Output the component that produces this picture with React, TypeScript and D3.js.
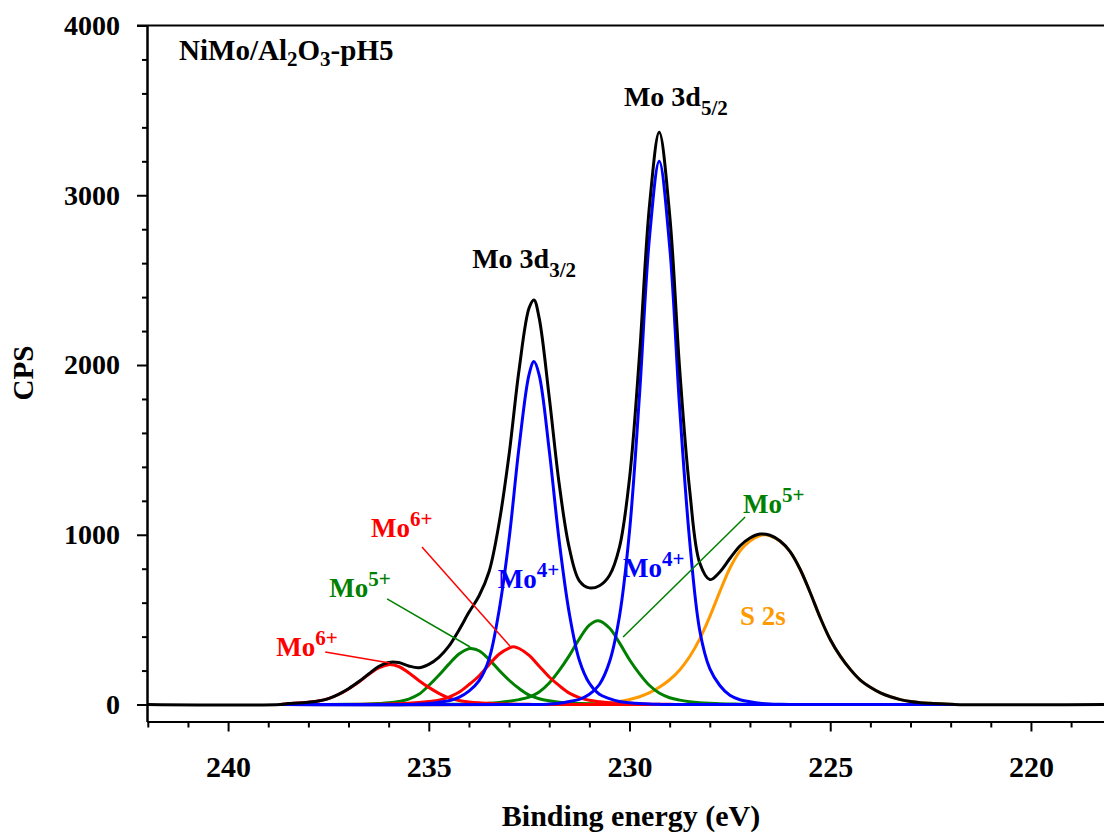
import React, { useEffect, useRef } from 'react';
import * as d3 from 'd3';

type Pt = [number, number];

const mo6Low: Pt[] = [
  [238.7, 0], [238.5, 6], [238.25, 9], [238, 14], [237.75, 21], [237.5, 35], [237.25, 59], [237, 92],
  [236.75, 131], [236.5, 176], [236.25, 216], [236, 235], [235.75, 224], [235.5, 187], [235.25, 142],
  [235, 101], [234.75, 66], [234.5, 39], [234.25, 24], [234, 15], [233.75, 10], [233.5, 7], [233.25, 4],
  [233, 3], [232.75, 2], [232.5, 1], [232, 0], [221.9, 0],
];

const mo5Low: Pt[] = [
  [238.7, 0], [237.5, 0], [237, 1], [236.75, 2], [236.5, 3], [236.25, 6], [236, 10], [235.75, 18],
  [235.5, 32], [235.25, 60], [235, 112], [234.75, 172], [234.5, 238], [234.25, 298], [234, 329],
  [233.95, 330], [233.75, 317], [233.5, 266], [233.25, 202], [233, 143], [232.75, 94], [232.5, 55],
  [232.25, 34], [232, 22], [231.75, 14], [231.5, 9], [231.25, 6], [231, 4], [230.75, 3], [230.5, 2],
  [230, 1], [229.5, 0], [221.9, 0],
];

const mo4Low: Pt[] = [
  [238.7, 0], [235.5, 0], [235.25, 3], [235, 6], [234.75, 14], [234.5, 22], [234.25, 42], [234, 79],
  [233.75, 139], [233.5, 267], [233.25, 553], [233, 976], [232.75, 1519], [232.5, 1947], [232.38, 2020],
  [232.25, 1941], [232, 1497], [231.75, 960], [231.5, 537], [231.25, 261], [231, 125], [230.75, 60],
  [230.5, 35], [230.25, 18], [230, 11], [229.75, 6], [229.5, 3], [229.25, 1], [229, 0], [221.9, 0],
];

const mo6High: Pt[] = [
  [238.7, 0], [237, 0], [236.5, 1], [236.25, 2], [236, 3], [235.75, 5], [235.5, 8], [235.25, 12],
  [235, 18], [234.75, 26], [234.5, 44], [234.25, 72], [234, 117], [233.75, 168], [233.5, 235],
  [233.25, 296], [233, 332], [232.89, 340], [232.75, 330], [232.5, 290], [232.25, 226], [232, 162],
  [231.75, 111], [231.5, 67], [231.25, 41], [231, 25], [230.75, 17], [230.5, 11], [230.25, 7], [230, 5],
  [229.75, 3], [229.5, 2], [229, 1], [228.5, 0], [221.9, 0],
];

const mo5High: Pt[] = [
  [238.7, 0], [235, 0], [234.5, 1], [234.25, 2], [234, 3], [233.75, 5], [233.5, 7], [233.25, 12],
  [233, 19], [232.75, 29], [232.5, 44], [232.25, 74], [232, 127], [231.75, 201], [231.5, 288],
  [231.25, 387], [231, 468], [230.78, 494], [230.5, 451], [230.25, 363], [230, 264], [229.75, 181],
  [229.5, 112], [229.25, 66], [229, 40], [228.75, 26], [228.5, 17], [228.25, 11], [228, 7], [227.75, 4],
  [227.5, 3], [227.25, 2], [227, 1], [226, 0], [221.9, 0],
];

const mo4High: Pt[] = [
  [238.7, 0], [232.25, 0], [232, 3], [231.75, 8], [231.5, 18], [231.25, 30], [231, 60], [230.75, 118],
  [230.5, 250], [230.25, 520], [230, 1021], [229.75, 1827], [229.5, 2758], [229.26, 3200], [229, 2698],
  [228.75, 1744], [228.5, 960], [228.25, 435], [228, 211], [227.75, 112], [227.5, 54], [227.25, 28],
  [227, 17], [226.75, 8], [226.5, 3], [226.25, 1], [226, 0], [221.9, 0],
];

const s2s: Pt[] = [
  [238.7, 0], [232, 0], [231.75, 2], [231.5, 3], [231.25, 4], [231, 5], [230.75, 8], [230.5, 11],
  [230.25, 18], [230, 30], [229.75, 46], [229.5, 70], [229.25, 103], [229, 146], [228.75, 204],
  [228.5, 283], [228.25, 387], [228, 518], [227.75, 665], [227.5, 803], [227.25, 904], [227, 963],
  [226.75, 995], [226.63, 1000], [226.5, 993], [226.25, 962], [226, 901], [225.75, 797], [225.5, 660],
  [225.25, 512], [225, 383], [224.75, 285], [224.5, 207], [224.25, 144], [224, 102], [223.75, 69],
  [223.5, 46], [223.25, 29], [223, 18], [222.75, 11], [222.5, 7], [222.25, 4], [222, 2], [221.9, 0],
];

const envelope: Pt[] = [
  [242.02, 0], [238.7, 0], [238.5, 6], [238.25, 9], [238, 14], [237.75, 21], [237.5, 35], [237.25, 60],
  [237, 93], [236.75, 134], [236.5, 180], [236.25, 224], [236, 248], [235.75, 247], [235.5, 227],
  [235.25, 217], [235, 237], [234.75, 278], [234.5, 344], [234.25, 438], [234, 543], [233.75, 639],
  [233.5, 782], [233.25, 1067], [233, 1473], [232.75, 1974], [232.5, 2337], [232.38, 2383], [232.25, 2276],
  [232, 1811], [231.75, 1296], [231.5, 922], [231.25, 729], [231, 687], [230.75, 700], [230.5, 760],
  [230.25, 927], [230, 1332], [229.75, 2063], [229.5, 2945], [229.26, 3371], [229, 2885], [228.75, 1974],
  [228.5, 1260], [228.25, 833], [228, 736], [227.75, 781], [227.5, 860], [227.25, 934], [227, 981],
  [226.75, 1004], [226.5, 997], [226.25, 963], [226, 901], [225.75, 797], [225.5, 660], [225.25, 512],
  [225, 383], [224.75, 285], [224.5, 207], [224.25, 144], [224, 102], [223.75, 69], [223.5, 46],
  [223.25, 29], [223, 18], [222.75, 11], [222.5, 7], [222.25, 4], [222, 2], [221.9, 0], [218.18, 0],
];

const xMajor = [240, 235, 230, 225, 220];
const xMinor = d3.range(242, 218, -1).filter(v => v % 5 !== 0);
const yMajor = [0, 1000, 2000, 3000, 4000];
const yMinor = d3.range(200, 4000, 200).filter(v => v % 1000 !== 0);

const RED = '#ff0000';
const GREEN = '#008000';
const BLUE = '#0000ff';
const ORANGE = '#ff9900';
const FONT = '"Liberation Serif", "Times New Roman", serif';

const components = [
  { data: s2s, color: ORANGE },
  { data: mo5Low, color: GREEN },
  { data: mo5High, color: GREEN },
  { data: mo6Low, color: RED },
  { data: mo6High, color: RED },
  { data: mo4Low, color: BLUE },
  { data: mo4High, color: BLUE },
];

// annotation anchors in data space [eV, CPS]
const stateLabels = [
  { sup: '6+', color: RED, at: [236.44, 987], leader: [[235.17, 928], [232.98, 345]] },
  { sup: '5+', color: GREEN, at: [237.48, 633], leader: [[236.04, 622], [233.97, 339]] },
  { sup: '6+', color: RED, at: [238.8, 286], leader: [[237.58, 309], [235.97, 244]] },
  { sup: '4+', color: BLUE, at: [233.28, 686], leader: null },
  { sup: '4+', color: BLUE, at: [230.16, 751], leader: null },
  { sup: '5+', color: GREEN, at: [227.17, 1128], leader: [[227.12, 1105], [230.16, 398]] },
];

type Seg = { t: string; dy?: number; size?: number };

const richText = (parent: any, px: number, py: number, segs: Seg[], color: string, size: number) => {
  const t = parent.append('text')
    .attr('x', px).attr('y', py)
    .attr('fill', color)
    .attr('font-family', FONT)
    .attr('font-weight', 'bold')
    .attr('font-size', size);
  segs.forEach(s => t.append('tspan').attr('dy', s.dy ?? 0).attr('font-size', s.size ?? size).text(s.t));
  return t;
};

const App = () => {
  const ref = useRef<SVGSVGElement>(null);

  useEffect(() => {
    const svg = d3.select(ref.current);
    svg.selectAll('*').remove();

    const x = d3.scaleLinear().domain([242.02, 218.18]).range([147, 1104]);
    const y = d3.scaleLinear().domain([-100, 4000]).range([721.5, 25.5]);

    const styleAxis = (g: any, size: number) => {
      g.selectAll('path, line').attr('stroke', '#000').attr('stroke-width', 2);
      g.selectAll('text')
        .attr('fill', '#000')
        .attr('font-family', FONT)
        .attr('font-weight', 'bold')
        .attr('font-size', size);
    };

    // y axis
    svg.append('g')
      .attr('transform', `translate(${x.range()[0]},0)`)
      .call(d3.axisLeft(y).tickValues(yMinor).tickSize(5).tickSizeOuter(0).tickFormat(() => ''))
      .call((g: any) => styleAxis(g, 28));
    svg.append('g')
      .attr('transform', `translate(${x.range()[0]},0)`)
      .call(d3.axisLeft(y).tickValues(yMajor).tickSize(10).tickSizeOuter(0).tickPadding(17).tickFormat(d3.format('d')))
      .call((g: any) => styleAxis(g, 28));

    // x axis
    svg.append('g')
      .attr('transform', `translate(0,${y.range()[0]})`)
      .call(d3.axisBottom(x).tickValues(xMinor).tickSize(6).tickSizeOuter(0).tickFormat(() => ''))
      .call((g: any) => styleAxis(g, 30));
    svg.append('g')
      .attr('transform', `translate(0,${y.range()[0]})`)
      .call(d3.axisBottom(x).tickValues(xMajor).tickSize(10).tickSizeOuter(0).tickPadding(24).tickFormat(d3.format('d')))
      .call((g: any) => styleAxis(g, 30));

    // top frame
    svg.append('line')
      .attr('x1', x.range()[0] - 10).attr('x2', x.range()[1])
      .attr('y1', y(4000)).attr('y2', y(4000))
      .attr('stroke', '#000').attr('stroke-width', 2);

    // axis titles
    svg.append('text')
      .attr('x', 631).attr('y', 826)
      .attr('text-anchor', 'middle')
      .attr('font-family', FONT).attr('font-weight', 'bold').attr('font-size', 30)
      .text('Binding energy (eV)');
    svg.append('text')
      .attr('transform', 'translate(33,373) rotate(-90)')
      .attr('text-anchor', 'middle')
      .attr('font-family', FONT).attr('font-weight', 'bold').attr('font-size', 29)
      .text('CPS');

    const line = d3.line<Pt>()
      .x(d => x(d[0]))
      .y(d => y(d[1]))
      .curve(d3.curveCatmullRom.alpha(0.5));

    const plot = svg.append('g');
    components.forEach(c => {
      plot.append('path')
        .attr('d', line(c.data))
        .attr('fill', 'none')
        .attr('stroke', c.color)
        .attr('stroke-width', 3)
        .attr('stroke-linejoin', 'round');
    });
    plot.append('path')
      .attr('d', line(envelope))
      .attr('fill', 'none')
      .attr('stroke', '#000')
      .attr('stroke-width', 3)
      .attr('stroke-linejoin', 'round');

    // leaders and state labels
    const notes = svg.append('g');
    stateLabels.forEach(l => {
      if (l.leader) {
        notes.append('line')
          .attr('x1', x(l.leader[0][0])).attr('y1', y(l.leader[0][1]))
          .attr('x2', x(l.leader[1][0])).attr('y2', y(l.leader[1][1]))
          .attr('stroke', l.color).attr('stroke-width', 1.5);
      }
      richText(notes, x(l.at[0]), y(l.at[1]), [{ t: 'Mo' }, { t: l.sup, dy: -11, size: 21 }], l.color, 27);
    });
    richText(notes, x(227.25), y(468), [{ t: 'S 2s' }], ORANGE, 27);

    richText(notes, x(233.92), y(2571), [{ t: 'Mo 3d' }, { t: '3/2', dy: 9, size: 21 }], '#000', 28);
    richText(notes, x(230.14), y(3526), [{ t: 'Mo 3d' }, { t: '5/2', dy: 9, size: 21 }], '#000', 28);

    richText(notes, x(241.22), y(3795), [
      { t: 'NiMo/Al' },
      { t: '2', dy: 6, size: 21 },
      { t: 'O', dy: -6 },
      { t: '3', dy: 6, size: 21 },
      { t: '-pH5', dy: -6 },
    ], '#000', 29);
  });

  return (
    <div style={{ position: 'absolute', left: 0, top: 0 }}>
      <svg ref={ref} width={1104} height={836} style={{ display: 'block', background: '#fff' }} />
    </div>
  );
};

export default App;
